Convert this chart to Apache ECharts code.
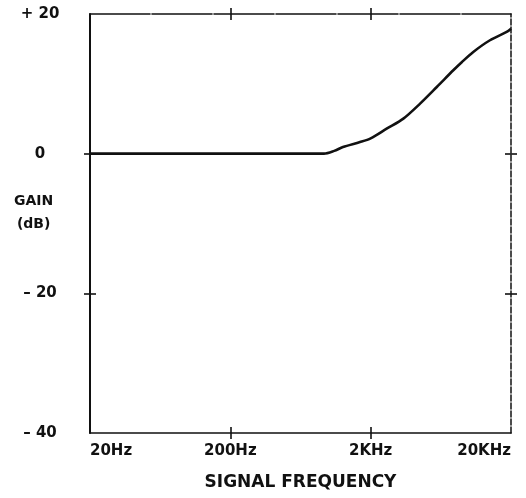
<!DOCTYPE html>
<html>
<head>
<meta charset="utf-8">
<script src="https://cdn.jsdelivr.net/npm/echarts@6/dist/echarts.min.js"></script>
<style>
html,body{margin:0;padding:0;background:#fff;}
#chart{width:526px;height:498px;}
</style>
</head>
<body>
<div id="chart"></div>
<script>
// Frequency in Hz (log axis, decades from 20 Hz)
var freqHz = [20, 500, 930, 1100, 1270, 1680, 2000, 2600, 3420, 4500, 5920, 7760, 8910, 10770, 14160, 18620, 20000];
// Gain in dB
var gainDb = [0, 0, 0, 0.4, 0.95, 1.66, 2.2, 3.58, 5.02, 7.17, 9.55, 11.94, 13.1, 14.57, 16.24, 17.43, 17.9];
var xTickLabels = ['20Hz', '200Hz', '2KHz', '20KHz'];
var yTickValues = [-40, -20, 0, 20];
var yTickLabels = ['– 40', '– 20', '0', '+ 20'];
var xTitle = 'SIGNAL FREQUENCY';
var yTitle = 'GAIN\n(dB)';

var baseFreq = 20;
var points = freqHz.map(function (f, i) { return [Math.log10(f / baseFreq), gainDb[i]]; });

var FONT = 'DejaVu Sans';
var black = '#111';

function xAx(pos, showLine, inside, showLabel, lineType, width) {
  return {
    type: 'value', position: pos, min: 0, max: 3, interval: 1,
    axisLine: { show: showLine, onZero: false, lineStyle: { color: black, width: width || 1.6, type: lineType || 'solid' } },
    axisTick: { show: true, inside: inside, length: 6, customValues: [1, 2], lineStyle: { color: black, width: 1.6 } },
    axisLabel: showLabel ? {
      show: true, margin: 11, color: black, fontFamily: FONT, fontWeight: 'bold', fontSize: 15,
      alignMinLabel: 'left', alignMaxLabel: 'right',
      formatter: function (v) { return xTickLabels[Math.round(v)]; }
    } : { show: false },
    splitLine: { show: false }
  };
}
function yAx(pos, showLine, inside, showLabel, lineType, width) {
  return {
    type: 'value', position: pos, min: -40, max: 20, interval: 20,
    axisLine: { show: showLine, onZero: false, lineStyle: { color: black, width: width || 1.6, type: lineType || 'solid' } },
    axisTick: { show: true, inside: inside, length: 6, customValues: [-20, 0], lineStyle: { color: black, width: 1.6 } },
    axisLabel: showLabel ? {
      show: true, margin: 50, align: 'center', color: black, fontFamily: FONT, fontWeight: 'bold', fontSize: 15,
      formatter: function (v) { var i = yTickValues.indexOf(Math.round(v)); return i >= 0 ? yTickLabels[i] : ''; }
    } : { show: false },
    splitLine: { show: false }
  };
}

var xMain = xAx('bottom', true, true, true);
xMain.name = xTitle;
xMain.nameLocation = 'middle';
xMain.nameGap = 41;
xMain.nameTextStyle = { color: black, fontFamily: FONT, fontWeight: 'bold', fontSize: 17 };

var chart = echarts.init(document.getElementById('chart'), null, { renderer: 'canvas' });
chart.setOption({
  animation: false,
  backgroundColor: '#fff',
  grid: { left: 90, right: 15, top: 14, bottom: 65, containLabel: false },
  xAxis: [
    xMain,
    xAx('bottom', false, false, false),
    xAx('top', true, true, false, [60, 2], 1.6),
    xAx('top', false, false, false)
  ],
  yAxis: [
    yAx('left', true, true, true, 'solid', 2),
    yAx('left', false, false, false),
    yAx('right', true, true, false, [6, 2], 1.5),
    yAx('right', false, false, false)
  ],
  graphic: [{
    type: 'text', left: 14, top: 190,
    style: { text: yTitle, fill: black, font: 'bold 14px "DejaVu Sans"', textAlign: 'center', lineHeight: 23, x: 20 }
  }],
  series: [{
    type: 'line', xAxisIndex: 0, yAxisIndex: 0,
    data: points, smooth: 0.3, showSymbol: false,
    lineStyle: { color: black, width: 2.6 }
  }]
});
</script>
</body>
</html>
